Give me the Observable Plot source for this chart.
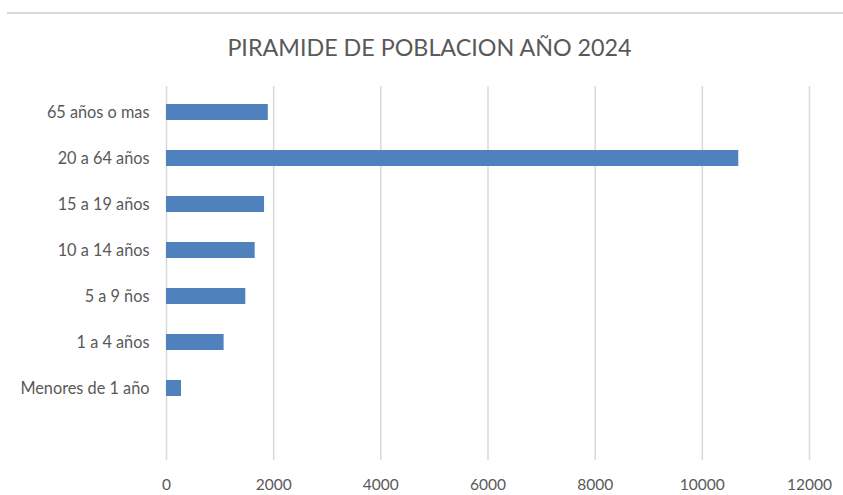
<!DOCTYPE html>
<html>
<head>
<meta charset="utf-8">
<script src="https://cdn.jsdelivr.net/npm/d3@7"></script>
<script src="https://cdn.jsdelivr.net/npm/@observablehq/plot@0.6"></script>
<style>
  html, body { margin: 0; padding: 0; background: #fff; }
  #wrap { position: relative; width: 843px; height: 495px; overflow: hidden; font-family: Lato, "Open Sans", sans-serif; }
  #topline { position: absolute; left: 7px; right: 0; top: 12px; height: 2px; background: #d9d9d9; }
  #title { position: absolute; left: 8px; width: 843px; top: 32px; text-align: center; font-size: 23.3px; color: #595959; line-height: 30px; }
  #chart { position: absolute; left: 0; top: 70px; }
</style>
</head>
<body>
<div id="wrap">
  <div id="topline"></div>
  <div id="title">PIRAMIDE DE POBLACION AÑO 2024</div>
  <div id="chart"></div>
</div>
<script>
const categories = ["65 años o mas", "20 a 64 años", "15 a 19 años", "10 a 14 años", "5 a 9 ños", "1 a 4 años", "Menores de 1 año"];
const values = [1900, 10680, 1830, 1655, 1480, 1075, 280];
const xTicks = [0, 2000, 4000, 6000, 8000, 10000, 12000];

const data = categories.map((c, i) => ({category: c, value: values[i]}));

const plot = Plot.plot({
  width: 843,
  height: 425,
  marginTop: 16,
  marginBottom: 35,
  marginLeft: 166,
  marginRight: 34,
  style: {fontFamily: "Lato, 'Open Sans', sans-serif", color: "#595959", background: "transparent"},
  x: {domain: [0, 12000], ticks: xTicks},
  y: {domain: [...categories, " "], paddingInner: 0.658, paddingOuter: 0.329},
  marks: [
    Plot.gridX(xTicks, {stroke: "#d9d9d9", strokeOpacity: 1, strokeWidth: 1.5}),
    Plot.barX(data, {x: "value", y: "category", fill: "#4f81bd"}),
    Plot.axisX(xTicks, {tickSize: 0, tickPadding: 18, tickFormat: d => String(d), fontSize: 15.5, fill: "#595959", label: null}),
    Plot.axisY({tickSize: 0, tickPadding: 17, fontSize: 16.3, fill: "#595959", label: null})
  ]
});
document.getElementById("chart").appendChild(plot);
</script>
</body>
</html>
